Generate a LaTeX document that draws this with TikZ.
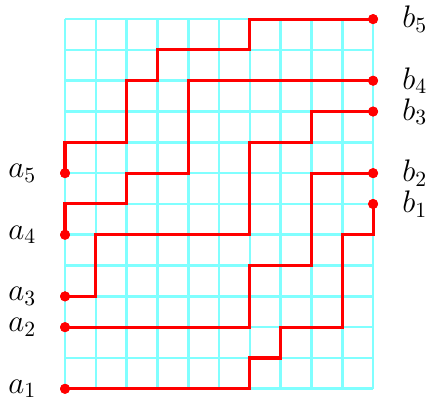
\documentclass[tikz,border=0pt]{standalone}
\usepackage{xcolor}
\usepackage{tikz}
\usetikzlibrary{positioning}
\definecolor{gridcyan}{HTML}{80FFFF}
\definecolor{pathred}{HTML}{FF0000}
\tikzset{
  gridline/.style={draw=gridcyan, line width=1.2pt},
  lattice/.style={draw=pathred, line width=1.4pt, line join=miter},
  endpt/.style={circle, fill=pathred, inner sep=0pt, minimum size=4.6pt},
  lbl/.style={font=\fontsize{14.5}{17}\selectfont, inner sep=0pt},
}

\begin{document}
\begin{tikzpicture}[x=0.5cm, y=0.5cm]
  \useasboundingbox (-2.11,-0.49) rectangle (11.88,12.62);
  \draw[gridline, step=0.5cm] (0,0) grid (10,12);
  % start and end points
  \foreach \n/\y in {1/0, 2/2, 3/3, 4/5, 5/7}
    \node[endpt] (a\n) at (0,\y) {};
  \foreach \n/\y in {1/6, 2/7, 3/9, 4/10, 5/12}
    \node[endpt] (b\n) at (10,\y) {};
  \foreach \n in {1,...,5} {
    \node[lbl, left=0.37cm of a\n] (la\n) {$a_{\n}$};
    \node[lbl, right=0.38cm of b\n] (lb\n) {$b_{\n}$};
  }
  % the five paths
  \draw[lattice] (a1.center) -- (6,0) -- (6,1) -- (7,1) -- (7,2) -- (9,2) -- (9,5) -- (10,5) -- (b1.center);
  \draw[lattice] (a2.center) -- (6,2) -- (6,4) -- (8,4) -- (8,7) -- (b2.center);
  \draw[lattice] (a3.center) -- (1,3) -- (1,5) -- (6,5) -- (6,8) -- (8,8) -- (8,9) -- (b3.center);
  \draw[lattice] (a4.center) -- (0,6) -- (2,6) -- (2,7) -- (4,7) -- (4,10) -- (b4.center);
  \draw[lattice] (a5.center) -- (0,8) -- (2,8) -- (2,10) -- (3,10) -- (3,11) -- (6,11) -- (6,12) -- (b5.center);
  \foreach \n in {1,...,5} {
    \fill[pathred] (a\n) circle (2.3pt);
    \fill[pathred] (b\n) circle (2.3pt);
  }
\end{tikzpicture}
\end{document}
